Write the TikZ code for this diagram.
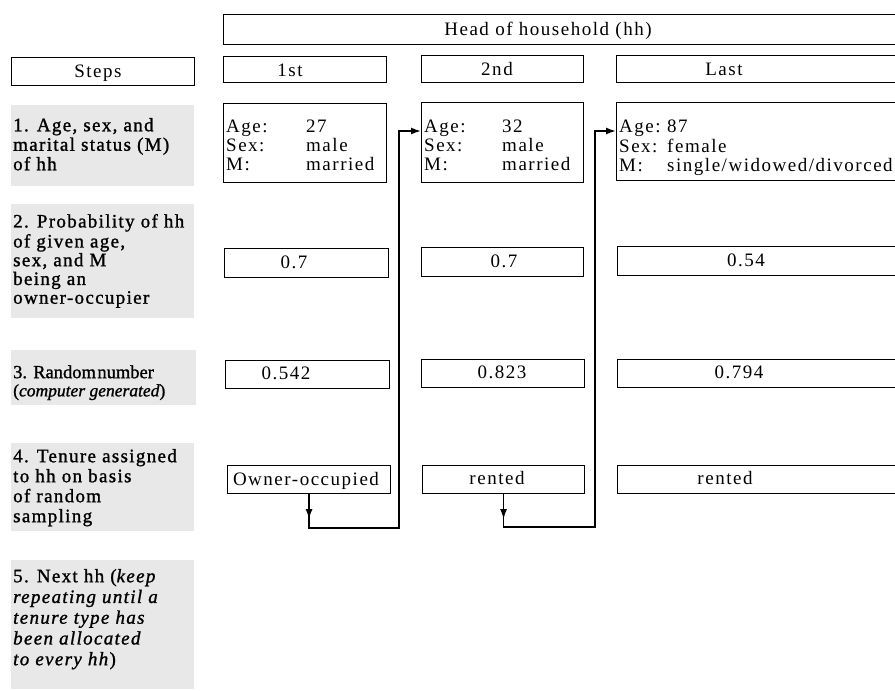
\documentclass[tikz,border=0pt]{standalone}
\usepackage{fontspec}
\setmainfont{Liberation Serif}[LetterSpace=8]
\newfontfamily\stepfont{Liberation Serif}[LetterSpace=7, FakeBold=1.2]
\newfontfamily\tightfont{Liberation Serif}[LetterSpace=0, FakeBold=1.2]
\usetikzlibrary{arrows.meta}
\newcommand\fsz[1]{\fontsize{19}{#1}\selectfont}
\tikzset{
  box/.style={draw, line width=1.1pt, inner sep=0pt, anchor=north west},
  txt/.style={inner sep=0pt, anchor=base, font=\fsz{19}},
  lbl/.style={inner sep=0pt, anchor=north west, align=left},
  conn/.style={line width=1.5pt},
  tip/.style={-{Latex[length=10pt,width=7pt]}},
  bg/.style={fill=black!9}
}
\newcommand\bx[5]{\node[box, minimum width={#4pt-#2pt}, minimum height={#5pt-#3pt}] (#1) at (#2,#3) {};}
\begin{document}
\begin{tikzpicture}[x=1pt,y=-1pt]
\clip (0,0) rectangle (895,691);
\fill[white] (0,0) rectangle (895,691);
% shaded step labels
\fill[bg] (11,105) rectangle (194,186);
\fill[bg] (11,204) rectangle (194,318);
\fill[bg] (11,350) rectangle (196,405);
\fill[bg] (11,443) rectangle (194,531);
\fill[bg] (11,560) rectangle (194,689);
% header boxes
\bx{head}{223}{14}{905}{44}
\bx{steps}{11}{57}{194}{85}
\bx{c1}{223}{56}{386}{82}
\bx{c2}{421}{55}{583}{82}
\bx{c3}{616}{55}{905}{82}
% row 1
\bx{age1}{223}{103}{386}{182}
\bx{age2}{421}{102}{583}{182}
\bx{age3}{616}{102}{905}{180}
% row 2
\bx{p1}{224}{248}{388}{277}
\bx{p2}{421}{247}{583}{276}
\bx{p3}{617}{246}{905}{275}
% row 3
\bx{r1}{225}{360}{389}{388}
\bx{r2}{421}{359}{584}{387}
\bx{r3}{617}{359}{905}{387}
% row 4
\bx{own}{227}{465}{390}{493}
\bx{ten2}{422}{465}{584}{493}
\bx{ten3}{617}{465}{905}{493}
% header texts
\node[txt] (thead) at (548,35) {Head of household (hh)};
\node[txt] (tsteps) at (98,77) {Steps};
\node[txt] (t1) at (290,76) {1st};
\node[txt] (t2) at (497,75) {2nd};
\node[txt] (t3) at (724,75) {Last};
% row 1 texts
\node[lbl, font=\fsz{19}] (ta1) at (226,118.7) {\strut\makebox[80pt][l]{Age:}27\\\makebox[80pt][l]{Sex:}male\\\makebox[80pt][l]{M:}married};
\node[lbl, font=\fsz{19}] (ta2) at (424,118.7) {\strut\makebox[78pt][l]{Age:}32\\\makebox[78pt][l]{Sex:}male\\\makebox[78pt][l]{M:}married};
\node[lbl, font=\fsz{19}] (ta3) at (619,118.7) {\strut\makebox[48pt][l]{Age:}87\\\makebox[48pt][l]{Sex:}female\\\makebox[48pt][l]{M:}single/widowed/divorced};
% row 2 texts
\node[txt] (tp1) at (294,268) {0.7};
\node[txt] (tp2) at (504,267) {0.7};
\node[txt] (tp3) at (746,266) {0.54};
% row 3 texts
\node[txt] (tr1) at (286,379) {0.542};
\node[txt] (tr2) at (502,378) {0.823};
\node[txt] (tr3) at (739,378) {0.794};
% row 4 texts
\node[txt] (tt1) at (306,485) {Owner-occupied};
\node[txt] (tt2) at (497,484) {rented};
\node[txt] (tt3) at (725,484) {rented};
% step labels
\node[lbl, font=\stepfont\fsz{19.5}] (s1) at (13,117.4) {\strut 1. Age, sex, and\\marital status (M)\\of hh};
\node[lbl, font=\stepfont\fsz{18.75}] (s2) at (13,213.9) {\strut 2. Probability of hh\\of given age,\\sex, and M\\being an\\owner-occupier};
\node[lbl, font=\tightfont\fontsize{18.5}{17}\selectfont] (s3) at (13,365.1) {\strut 3. Random\hspace{1.5pt}number\\{\fontsize{17.5}{17}\selectfont(\textit{computer generated})}};
\node[lbl, font=\stepfont\fsz{20}] (s4) at (13,448) {\strut 4. Tenure assigned\\to hh on basis\\of random\\sampling};
\node[lbl, font=\stepfont\fsz{20.75}] (s5) at (13,567.5) {\strut 5. Next hh (\textit{keep}\\\textit{repeating until a}\\\textit{tenure type has}\\\textit{been allocated}\\\textit{to every hh})};
% connectors
\coordinate (j1) at (399,131);
\coordinate (j2) at (595,131);
\draw[conn,tip] (own.south) -- ++(0,25);
\draw[conn,tip] (own.south) -- ++(0,34) -| (j1) -- (j1 -| age2.west);
\draw[conn,tip] (ten2.south) -- ++(0,25);
\draw[conn,tip] (ten2.south) -- ++(0,33) -| (j2) -- (j2 -| age3.west);
\end{tikzpicture}
\end{document}
